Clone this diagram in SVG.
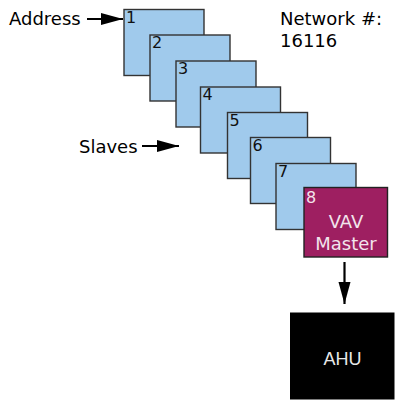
<svg xmlns="http://www.w3.org/2000/svg" width="395" height="400" viewBox="0 0 395 400">
<defs>
<style>
.box{fill:#a0caec;stroke:#333;stroke-width:1.4}
.num{font-family:"DejaVu Sans",Verdana,sans-serif;font-size:16px;fill:#111}
.lbl{font-family:"DejaVu Sans",Verdana,sans-serif;font-size:18px;fill:#000}
.wl{font-family:"DejaVu Sans",Verdana,sans-serif;font-size:18px;fill:#f2e4ec;text-anchor:middle}
.conn{stroke:#000;stroke-width:2.2;fill:none}
</style>
<marker id="ah" markerUnits="userSpaceOnUse" markerWidth="24" markerHeight="14" refX="22" refY="6" orient="auto">
<path d="M0,0 L22,6 L0,12 Z" fill="#000"/>
</marker>
</defs>
<rect width="395" height="400" fill="#fff"/>
<g id="labels">
<text class="lbl" x="9" y="25">Address</text>
<text class="lbl" x="79" y="153">Slaves</text>
<text class="lbl" x="280" y="25">Network #:</text>
<text class="lbl" x="280" y="47">16116</text>
</g>
<g id="connectors">
<line class="conn" x1="87" y1="19" x2="123" y2="19" marker-end="url(#ah)"/>
<line class="conn" x1="142" y1="146" x2="179" y2="146" marker-end="url(#ah)"/>
<line class="conn" x1="344.5" y1="262" x2="344.5" y2="304" marker-end="url(#ah)"/>
</g>
<g id="slave1"><rect class="box" x="124" y="9.5" width="80" height="66"/><text class="num" x="126" y="22.8">1</text></g>
<g id="slave2"><rect class="box" x="150" y="35" width="80" height="66"/><text class="num" x="152" y="48.3">2</text></g>
<g id="slave3"><rect class="box" x="176" y="61" width="80" height="66"/><text class="num" x="178" y="74.3">3</text></g>
<g id="slave4"><rect class="box" x="200.5" y="87" width="80" height="66"/><text class="num" x="202.5" y="100.3">4</text></g>
<g id="slave5"><rect class="box" x="227.5" y="112.5" width="80" height="66"/><text class="num" x="229.5" y="125.8">5</text></g>
<g id="slave6"><rect class="box" x="250.5" y="137.5" width="80" height="66"/><text class="num" x="252.5" y="150.8">6</text></g>
<g id="slave7"><rect class="box" x="276" y="163.5" width="80" height="66"/><text class="num" x="278" y="176.8">7</text></g>
<g id="master"><rect x="304" y="187.5" width="83.5" height="69.5" fill="#9e1f61" stroke="#222" stroke-width="1.4"/><text class="num" x="306" y="202.7" fill="#f2e4ec" style="fill:#f2e4ec">8</text><text class="wl" x="346" y="227.5">VAV</text><text class="wl" x="346" y="249.5">Master</text></g>
<g id="ahu"><rect x="290" y="312.5" width="104.5" height="87" fill="#000"/><text x="342.5" y="364.5" font-family="'Liberation Sans',Arial,sans-serif" font-size="18" fill="#e8e8e8" text-anchor="middle">AHU</text></g>
</svg>
